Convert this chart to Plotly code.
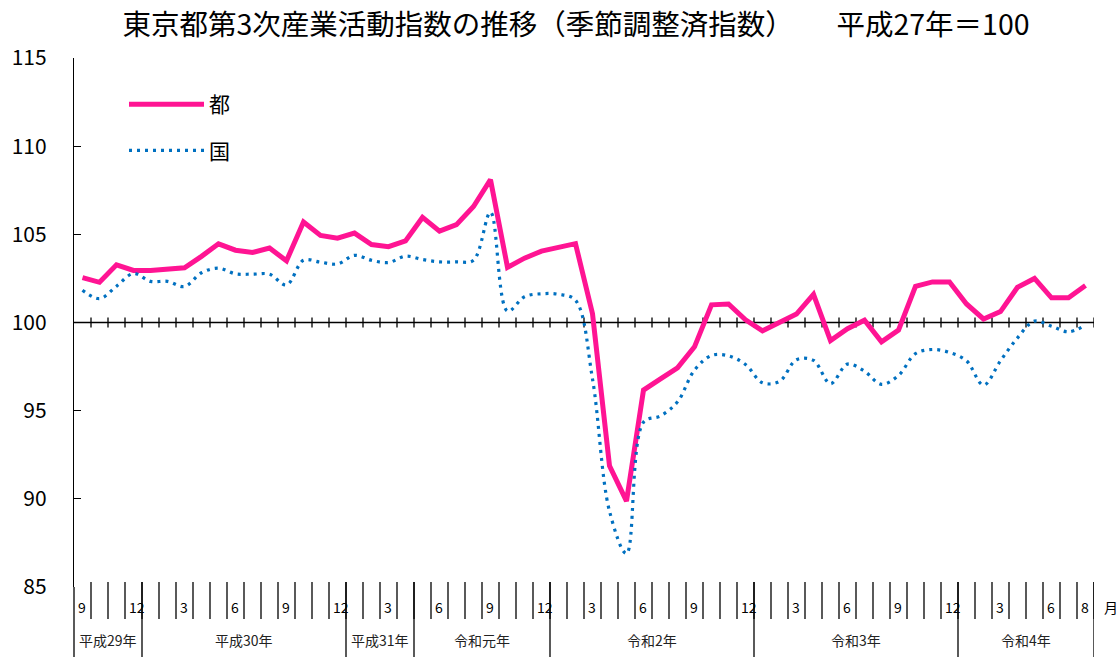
import plotly.graph_objects as go

# ---- data ----
tokyo = [102.55, 102.28, 103.27, 102.95, 102.95, 103.04, 103.10, 103.75, 104.46, 104.10,
         103.97, 104.22, 103.50, 105.70, 104.94, 104.78, 105.07, 104.42, 104.30, 104.63,
         105.96, 105.18, 105.55, 106.58, 108.10, 103.13, 103.65, 104.05, 104.25, 104.47,
         100.50, 91.87, 89.87, 96.17, 96.80, 97.43, 98.62, 101.00, 101.05, 100.15,
         99.53, 100.00, 100.48, 101.60, 98.98, 99.65, 100.13, 98.90, 99.57, 102.05,
         102.30, 102.30, 101.05, 100.20, 100.62, 102.00, 102.50, 101.40, 101.40, 102.10]
national = [101.83, 101.35, 102.06, 102.78, 102.33, 102.33, 102.04, 102.82, 103.08, 102.76,
            102.74, 102.74, 102.13, 103.53, 103.42, 103.32, 103.81, 103.53, 103.40, 103.76,
            103.57, 103.44, 103.44, 103.53, 106.25, 100.65, 101.46, 101.63, 101.60, 101.26,
            96.80, 89.30, 86.90, 94.35, 94.70, 95.50, 97.30, 98.13, 98.11, 97.62,
            96.58, 96.66, 97.89, 97.85, 96.53, 97.64, 97.24, 96.49, 97.00, 98.23,
            98.47, 98.30, 97.83, 96.45, 97.83, 99.13, 100.08, 99.79, 99.47, 99.85]
start_month = 9
months = [(start_month - 1 + i) % 12 + 1 for i in range(len(tokyo))]
shown_months = [3, 6, 9, 12]
years = ["平成29年", "平成30年", "平成31年", "令和元年", "令和2年", "令和3年", "令和4年"]
year_counts = [4, 12, 4, 8, 12, 12, 8]
y_ticks = [85, 90, 95, 100, 105, 110, 115]
series_names = ["都", "国"]
title_text = "東京都第3次産業活動指数の推移（季節調整済指数）　　平成27年＝100"

# ---- geometry (page pixels; body margin removed in the page) ----
W, H = 1120, 657
L, R, T, B = 74, 1094, 58, 587          # plot area in page pixels
plot_h = B - T
plot_w = R - L
n = len(tokyo)
xs = list(range(n))
FONT = "Noto Sans CJK JP"


def py(ypx):
    return (B - ypx) / plot_h


def px_paper(xpx):
    return (xpx - L) / plot_w


def pxu(px):  # pixels -> y data units
    return px * 30.0 / plot_h


fig = go.Figure()
fig.add_trace(go.Scatter(x=xs, y=tokyo, name=series_names[0], mode="lines",
                         line=dict(color="#FF1493", width=5), legendgroup="a"))
fig.add_trace(go.Scatter(x=xs, y=national, name=series_names[1], mode="lines",
                         line=dict(color="#0070C0", width=3.2, dash="3px,5px", shape="spline"),
                         legendgroup="b"))

shapes = []
# horizontal axis at 100
shapes.append(dict(type="line", xref="x", yref="y", x0=-0.5, x1=n - 0.5, y0=100, y1=100,
                   line=dict(color="black", width=1.3), layer="below"))
for b in range(1, n + 1):
    shapes.append(dict(type="line", xref="x", yref="y", x0=b - 0.5, x1=b - 0.5,
                       y0=100 - pxu(5), y1=100 + pxu(5),
                       line=dict(color="black", width=1.3), layer="below"))
# y axis extension below the plot
shapes.append(dict(type="line", xref="paper", yref="paper", x0=0, x1=0, y0=0, y1=py(H),
                   line=dict(color="black", width=1.3)))
# month separators
for b in range(1, n + 1):
    shapes.append(dict(type="line", xref="x", yref="paper", x0=b - 0.5, x1=b - 0.5,
                       y0=py(582), y1=py(619), line=dict(color="black", width=1.3)))
# year separators
cum = 0
for c in year_counts:
    cum += c
    shapes.append(dict(type="line", xref="x", yref="paper", x0=cum - 0.5, x1=cum - 0.5,
                       y0=py(582), y1=py(H), line=dict(color="black", width=1.3)))

annotations = []
for i, m in enumerate(months):
    if m in shown_months or i == n - 1:
        annotations.append(dict(x=i - 0.5 + 0.12, y=py(607), xref="x", yref="paper",
                                text=str(m), showarrow=False, xanchor="left", yanchor="middle",
                                font=dict(family=FONT, size=14, color="black")))
cum = 0
for name, c in zip(years, year_counts):
    center = cum + c / 2 - 0.5
    annotations.append(dict(x=center, y=py(640), xref="x", yref="paper", text=name,
                            showarrow=False, xanchor="center", yanchor="middle",
                            font=dict(family=FONT, size=14, color="#222")))
    cum += c
annotations.append(dict(x=px_paper(1111), y=py(607), xref="paper", yref="paper", text="月",
                        showarrow=False, xanchor="center", yanchor="middle",
                        font=dict(family=FONT, size=14, color="black")))

fig.update_layout(
    width=W, height=H,
    margin=dict(l=L, r=W - R, t=T, b=H - B, pad=0),
    paper_bgcolor="white", plot_bgcolor="white",
    title=dict(text=title_text, x=576 / W, xanchor="center",
               y=1 - 25 / H, yanchor="middle",
               font=dict(family=FONT, size=28.5, color="black")),
    xaxis=dict(range=[-0.5, n - 0.5], showticklabels=False, showgrid=False, zeroline=False,
               showline=False, ticks=""),
    yaxis=dict(range=[85, 115], tickvals=y_ticks, ticks="inside", ticklen=7, tickcolor="black",
               tickwidth=1.3, showline=True, linecolor="black", linewidth=1.3, showgrid=False,
               zeroline=False, ticklabelstandoff=22,
               tickfont=dict(family=FONT, size=21, color="black")),
    showlegend=True,
    legend=dict(x=px_paper(124), y=py(84), xanchor="left", yanchor="top",
                bgcolor="rgba(0,0,0,0)", font=dict(family=FONT, size=21, color="black"),
                itemwidth=75, traceorder="grouped", tracegroupgap=16),
    shapes=shapes, annotations=annotations,
)

fig.write_html("out.html", config={"displayModeBar": False},
               post_script="document.body.style.margin='0px';")
